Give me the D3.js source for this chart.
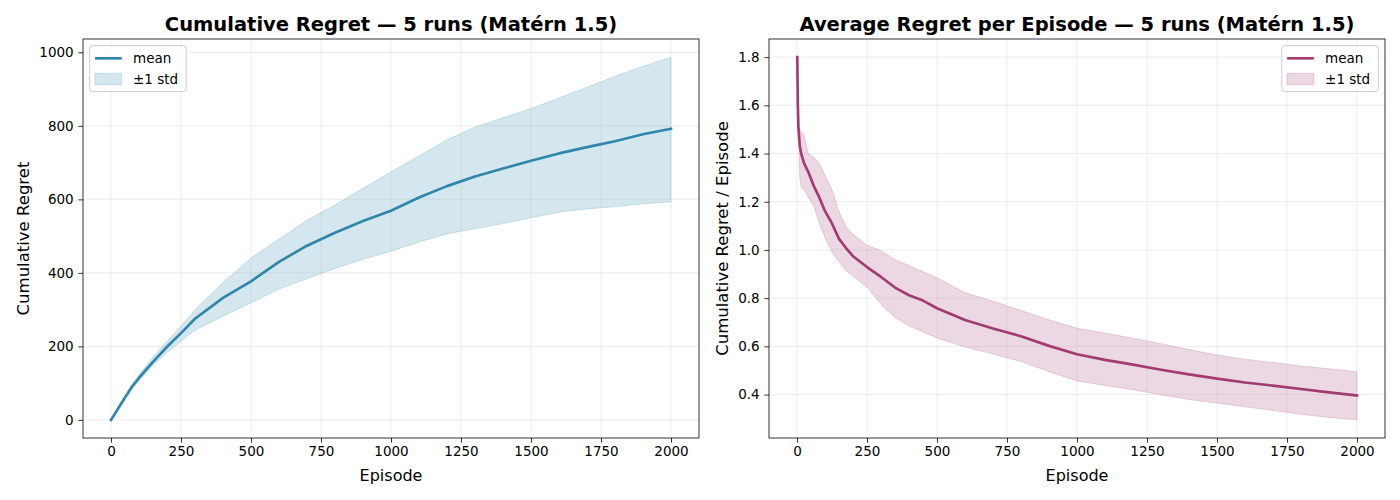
<!DOCTYPE html>
<html><head><meta charset="utf-8">
<script src="https://cdn.jsdelivr.net/npm/d3@7"></script>
<style>body{margin:0;background:#fff} svg{display:block} text{font-family:"DejaVu Sans",sans-serif;fill:#000}</style>
</head><body><svg id="c" width="1400" height="500"></svg>
<script>
// ---- data ----
const cumEpisodes = [0,25,50,75,100,150,200,250,300,400,500,600,700,800,900,1000,1100,1200,1300,1400,1500,1600,1700,1800,1900,2000];
const cumMean  = [0,30,61,90,114,158,199,236,275,332,377,430,474,509,541,569,605,636,662,684,705,725,742,758,777,792];
const cumUpper = [0,31,64,98,122,171,214,255,300,374,441,492,543,585,630,675,718,762,797,822,847,876,905,935,962,987];
const cumLower = [0,29,58,84,106,149,183,214,244,282,318,356,384,412,437,459,484,506,520,534,550,565,574,580,588,593];

const avgEpisodes = [1,3,5,10,15,25,40,60,80,100,125,150,175,200,250,300,350,400,450,500,600,700,800,900,1000,1100,1200,1300,1400,1500,1600,1700,1800,1900,2000];
const avgMean = [1.80,1.60,1.51,1.43,1.40,1.36,1.324,1.265,1.217,1.161,1.11,1.046,1.008,0.974,0.929,0.888,0.844,0.812,0.79,0.758,0.709,0.674,0.642,0.602,0.567,0.544,0.524,0.503,0.484,0.466,0.450,0.437,0.423,0.409,0.396];
const avgBandEpisodes = [8,10,15,25,40,60,80,100,125,150,175,200,250,300,350,400,450,500,600,700,800,900,1000,1100,1200,1300,1400,1500,1600,1700,1800,1900,2000];
const avgUpper = [1.50,1.50,1.49,1.475,1.40,1.385,1.36,1.31,1.25,1.16,1.095,1.065,1.02,0.997,0.96,0.935,0.91,0.885,0.822,0.788,0.749,0.71,0.675,0.655,0.634,0.611,0.587,0.564,0.547,0.533,0.519,0.507,0.495];
const avgLower = [1.36,1.30,1.26,1.25,1.22,1.18,1.11,1.05,0.99,0.95,0.915,0.89,0.845,0.775,0.72,0.685,0.66,0.635,0.597,0.568,0.537,0.495,0.456,0.438,0.42,0.399,0.379,0.365,0.349,0.334,0.318,0.305,0.295];

const xTicks = [0,250,500,750,1000,1250,1500,1750,2000];
const cumYTicks = [0,200,400,600,800,1000];
const avgYTicks = [0.4,0.6,0.8,1.0,1.2,1.4,1.6,1.8];
const titles = ["Cumulative Regret \u2014 5 runs (Mat\u00e9rn 1.5)", "Average Regret per Episode \u2014 5 runs (Mat\u00e9rn 1.5)"];
const yLabels = ["Cumulative Regret", "Cumulative Regret / Episode"];
const xLabel = "Episode";
const legendLabels = ["mean", "\u00b11 std"];
const colors = ["#2E86AB", "#A23B72"];

const svg = d3.select("#c");

function panel(o) {
  const {left, top, width, height} = o;
  const g = svg.append("g");
  const xs = o.meanX.concat(o.bandX);
  let xmin = d3.min(xs), xmax = d3.max(xs);
  xmin = Math.min(0, xmin);
  const xm = (xmax - xmin) * 0.05;
  const x = d3.scaleLinear().domain([xmin - xm, xmax + xm]).range([left, left + width]);
  const ys = o.mean.concat(o.upper, o.lower);
  const ymin = d3.min(ys), ymax = d3.max(ys), ym = (ymax - ymin) * 0.05;
  const y = d3.scaleLinear().domain([ymin - ym, ymax + ym]).range([top + height, top]);

  // band
  const band = o.bandX.map((e, i) => ({e, u: o.upper[i], l: o.lower[i]}));
  g.append("path").datum(band)
    .attr("d", d3.area().x(d => x(d.e)).y0(d => y(d.l)).y1(d => y(d.u)))
    .attr("fill", o.color).attr("fill-opacity", 0.2)
    .attr("stroke", o.color).attr("stroke-opacity", 0.2).attr("stroke-width", 1);

  // grid
  const gg = g.append("g").attr("stroke", "#b0b0b0").attr("stroke-opacity", 0.3).attr("stroke-width", 0.8);
  o.xTicks.forEach(t => gg.append("line").attr("x1", x(t)).attr("x2", x(t)).attr("y1", top).attr("y2", top + height));
  o.yTicks.forEach(t => gg.append("line").attr("y1", y(t)).attr("y2", y(t)).attr("x1", left).attr("x2", left + width));

  // mean line
  const m = o.meanX.map((e, i) => ({e, v: o.mean[i]}));
  g.append("path").datum(m)
    .attr("d", d3.line().x(d => x(d.e)).y(d => y(d.v)))
    .attr("fill", "none").attr("stroke", o.color).attr("stroke-width", 2.67)
    .attr("stroke-linejoin", "round").attr("stroke-linecap", "square");

  // axes
  const xa = g.append("g").attr("transform", `translate(0,${top + height})`)
    .call(d3.axisBottom(x).tickValues(o.xTicks).tickSize(4.67).tickPadding(4).tickFormat(d3.format("d")));
  const ya = g.append("g").attr("transform", `translate(${left},0)`)
    .call(d3.axisLeft(y).tickValues(o.yTicks).tickSize(4.67).tickPadding(4.67).tickFormat(o.yFmt));
  [xa, ya].forEach(a => {
    a.select(".domain").remove();
    a.selectAll(".tick line").attr("stroke", "#000").attr("stroke-width", 0.8);
    a.selectAll(".tick text").attr("font-size", "13.5px").attr("font-family", "DejaVu Sans").attr("fill", "#000");
  });
  g.append("rect").attr("x", left).attr("y", top).attr("width", width).attr("height", height)
    .attr("fill", "none").attr("stroke", "#000").attr("stroke-width", 0.8);

  // title and labels
  g.append("text").attr("x", left + width / 2).attr("y", top - 8).attr("text-anchor", "middle")
    .attr("font-size", "19.5px").attr("font-weight", "bold").text(o.title);
  g.append("text").attr("x", left + width / 2).attr("y", top + height + 43).attr("text-anchor", "middle")
    .attr("font-size", "16px").text(xLabel);
  g.append("text").attr("transform", `translate(${o.ylabX},${top + height / 2}) rotate(-90)`)
    .attr("text-anchor", "middle").attr("font-size", "16.5px").text(o.ylabel);

  // legend
  const lw = 96.5, lh = 46;
  const lx = o.legendRight ? left + width - 6.7 - lw : left + 6.7;
  const ly = top + 6.7;
  const lg = g.append("g");
  lg.append("rect").attr("x", lx).attr("y", ly).attr("width", lw).attr("height", lh)
    .attr("rx", 3).attr("fill", "#fff").attr("fill-opacity", 0.8).attr("stroke", "#cccccc").attr("stroke-width", 1);
  lg.append("line").attr("x1", lx + 5.3).attr("x2", lx + 32).attr("y1", ly + 12.6).attr("y2", ly + 12.6)
    .attr("stroke", o.color).attr("stroke-width", 2.67);
  lg.append("rect").attr("x", lx + 5.3).attr("y", ly + 27.6).attr("width", 26.7).attr("height", 11.4)
    .attr("fill", o.color).attr("fill-opacity", 0.2).attr("stroke", o.color).attr("stroke-opacity", 0.2);
  lg.append("text").attr("x", lx + 43.3).attr("y", ly + 17.3).attr("font-size", "13.5px").text(legendLabels[0]);
  lg.append("text").attr("x", lx + 43.3).attr("y", ly + 38).attr("font-size", "13.5px").text(legendLabels[1]);
}

panel({left: 83, top: 39, width: 616, height: 399, meanX: cumEpisodes, mean: cumMean, bandX: cumEpisodes,
  upper: cumUpper, lower: cumLower, color: colors[0], xTicks, yTicks: cumYTicks, yFmt: d3.format("d"),
  title: titles[0], ylabel: yLabels[0], ylabX: 29, legendRight: false});
panel({left: 769, top: 39, width: 616, height: 399, meanX: avgEpisodes, mean: avgMean, bandX: avgBandEpisodes,
  upper: avgUpper, lower: avgLower, color: colors[1], xTicks, yTicks: avgYTicks, yFmt: d3.format(".1f"),
  title: titles[1], ylabel: yLabels[1], ylabX: 728, legendRight: true});
</script></body></html>
